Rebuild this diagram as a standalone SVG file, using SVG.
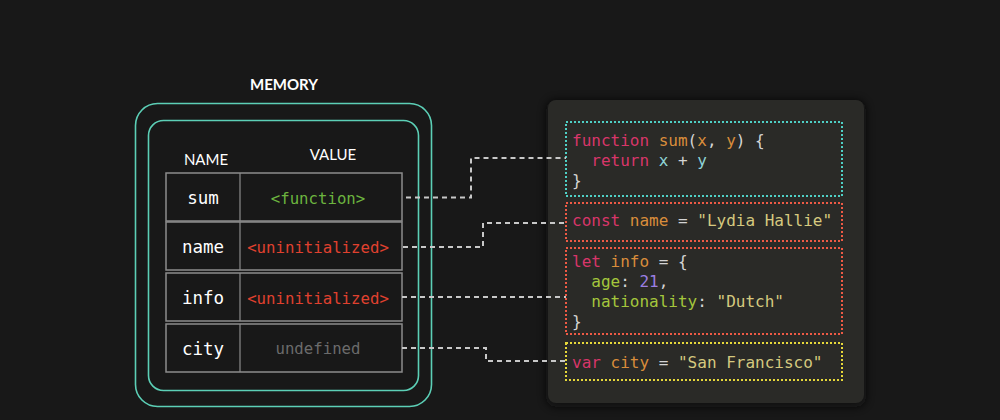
<svg xmlns="http://www.w3.org/2000/svg" width="1000" height="420" viewBox="0 0 1000 420">
<defs>
<style>
.bg{fill:#181818}
.mem{fill:none;stroke:#5ccfb6;stroke-width:1.6}
.row{fill:#181818;stroke:#8c8c8c;stroke-width:1.5}
.div{stroke:#8c8c8c;stroke-width:1.2}
.hdr{font-family:Lato,"Noto Sans",sans-serif;font-size:15px;fill:#ffffff;text-anchor:middle}
.title{font-family:Lato,"Noto Sans",sans-serif;font-size:15px;font-weight:bold;fill:#ffffff;text-anchor:middle}
.nm{font-family:"DejaVu Sans Mono",monospace;font-size:17.5px;fill:#ffffff;text-anchor:middle}
.val{font-family:"DejaVu Sans Mono",monospace;font-size:15.7px;text-anchor:middle}
.code{font-family:"DejaVu Sans Mono",monospace;font-size:16px;fill:#d4d4d4;white-space:pre}
.kw{fill:#d8366a}.id{fill:#d98d3b}.pr{fill:#8fd4d6}.st{fill:#d5c97f}.gr{fill:#a4c63c}.nu{fill:#9c7fe3}.pu{fill:#d4d4d4}
.box{fill:none;stroke-width:2;stroke-dasharray:2 2}
.conn{fill:none;stroke:#c8c8c8;stroke-width:2;stroke-dasharray:5 4}
</style>
<filter id="shadow" x="-10%" y="-10%" width="120%" height="120%">
<feGaussianBlur stdDeviation="4"/>
</filter>
</defs>
<rect class="bg" x="0" y="0" width="1000" height="420"/>
<rect x="546" y="100" width="320" height="307" rx="10" fill="#0a0a0a" filter="url(#shadow)" opacity="0.8"/>
<g id="code-panel">
<rect x="548" y="100" width="316" height="303" rx="8" fill="#2a2a27"/>
</g>
<g id="memory">
<text class="title" x="284" y="90">MEMORY</text>
<rect class="mem" x="135.5" y="103.5" width="296" height="303" rx="22"/>
<rect class="mem" x="148.5" y="120.5" width="270" height="270" rx="15"/>
<text class="hdr" x="206" y="165">NAME</text>
<text class="hdr" x="333" y="160">VALUE</text>
</g>
<g id="row-sum">
<rect class="row" x="166" y="173" width="236" height="48"/>
<line class="div" x1="240" y1="173" x2="240" y2="221"/>
<text class="nm" x="203" y="204">sum</text>
<text class="val" x="318" y="204" fill="#6cb43f">&lt;function&gt;</text>
</g>
<g id="row-name">
<rect class="row" x="166" y="222" width="236" height="48"/>
<line class="div" x1="240" y1="222" x2="240" y2="270"/>
<text class="nm" x="203" y="253">name</text>
<text class="val" x="318" y="253" fill="#e0412f">&lt;uninitialized&gt;</text>
</g>
<g id="row-info">
<rect class="row" x="166" y="273" width="236" height="48"/>
<line class="div" x1="240" y1="273" x2="240" y2="321"/>
<text class="nm" x="203" y="304">info</text>
<text class="val" x="318" y="304" fill="#e0412f">&lt;uninitialized&gt;</text>
</g>
<g id="row-city">
<rect class="row" x="166" y="324" width="236" height="48"/>
<line class="div" x1="240" y1="324" x2="240" y2="372"/>
<text class="nm" x="203" y="355">city</text>
<text class="val" x="318" y="354" fill="#6b6b6b">undefined</text>
</g>
<g id="code-sum">
<rect class="box" x="566" y="122" width="276" height="74" stroke="#4fd0c6"/>
<text class="code" x="572" y="146"><tspan class="kw">function</tspan> <tspan class="id">sum</tspan>(<tspan class="id">x</tspan>, <tspan class="id">y</tspan>) {</text>
<text class="code" x="572" y="166">  <tspan class="kw">return</tspan> <tspan class="pr">x</tspan> + <tspan class="pr">y</tspan></text>
<text class="code" x="572" y="186">}</text>
</g>
<g id="code-name">
<rect class="box" x="566" y="203" width="276" height="38" stroke="#ee5a45"/>
<text class="code" x="572" y="226"><tspan class="kw">const</tspan> <tspan class="id">name</tspan> = <tspan class="st">"Lydia Hallie"</tspan></text>
</g>
<g id="code-info">
<rect class="box" x="566" y="248" width="276" height="86" stroke="#ee5a45"/>
<text class="code" x="572" y="267"><tspan class="kw">let</tspan> <tspan class="id">info</tspan> = {</text>
<text class="code" x="572" y="287">  <tspan class="gr">age</tspan>: <tspan class="nu">21</tspan>,</text>
<text class="code" x="572" y="307">  <tspan class="gr">nationality</tspan>: <tspan class="st">"Dutch"</tspan></text>
<text class="code" x="572" y="327">}</text>
</g>
<g id="code-city">
<rect class="box" x="566" y="343" width="276" height="37" stroke="#e6d83a"/>
<text class="code" x="572" y="368"><tspan class="kw">var</tspan> <tspan class="id">city</tspan> = <tspan class="st">"San Francisco"</tspan></text>
</g>
<g id="connectors">
<polyline class="conn" points="406,197.5 471,197.5 471,158 566,158"/>
<polyline class="conn" points="403,247 483,247 483,223 566,223"/>
<polyline class="conn" points="402,297 566,297"/>
<polyline class="conn" points="402,348 486,348 486,361 566,361"/>
</g>
</svg>
